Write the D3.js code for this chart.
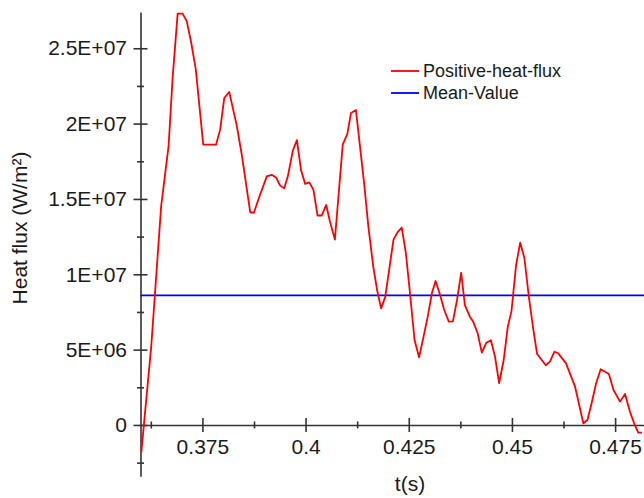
<!DOCTYPE html>
<html>
<head>
<meta charset="utf-8">
<script src="https://cdn.jsdelivr.net/npm/d3@7"></script>
<style>
  body { margin: 0; background: #fff; }
  text { font-family: "Liberation Sans", Arial, sans-serif; fill: #1a1a1a; }
</style>
</head>
<body>
<svg id="chart"></svg>
<script>
// time (s) and heat flux (W/m²)
let times = [0.3602, 0.3626, 0.3650, 0.3668, 0.3678, 0.3690, 0.3702, 0.3712, 0.3722, 0.3734,
  0.3752, 0.3783, 0.3793, 0.3803, 0.3815, 0.3833, 0.3845, 0.3866, 0.3875, 0.3886,
  0.3906, 0.3918, 0.3929, 0.3938, 0.3948, 0.3957, 0.3969, 0.3979, 0.3989, 0.3999,
  0.4009, 0.4019, 0.4029, 0.4039, 0.4050, 0.4059, 0.4071, 0.4090, 0.4101, 0.4110,
  0.4122, 0.4142, 0.4152, 0.4164, 0.4174, 0.4183, 0.4193, 0.4202, 0.4213, 0.4223,
  0.4233, 0.4243, 0.4253, 0.4264, 0.4275, 0.4285, 0.4296, 0.4306, 0.4315, 0.4326,
  0.4336, 0.4347, 0.4357, 0.4367, 0.4377, 0.4386, 0.4398, 0.4406, 0.4417, 0.4427,
  0.4438, 0.4449, 0.4459, 0.4469, 0.4480, 0.4490, 0.4499, 0.4510, 0.4520, 0.4530,
  0.4541, 0.4552, 0.4561, 0.4582, 0.4592, 0.4603, 0.4612, 0.4631, 0.4653, 0.4673,
  0.4683, 0.4693, 0.4704, 0.4715, 0.4735, 0.4746, 0.4762, 0.4774, 0.4786, 0.4796,
  0.4806, 0.4815]
let flux = [-1.8e6, 5.2e6, 14.5e6, 18.5e6, 23.1e6, 27.3e6, 27.3e6, 26.8e6, 25.5e6, 23.6e6,
  18.6e6, 18.6e6, 19.6e6, 21.7e6, 22.1e6, 19.9e6, 18.0e6, 14.1e6, 14.1e6, 15.0e6,
  16.5e6, 16.6e6, 16.4e6, 15.9e6, 15.7e6, 16.5e6, 18.2e6, 18.9e6, 16.9e6, 16.0e6,
  16.1e6, 15.6e6, 13.9e6, 13.9e6, 14.6e6, 13.5e6, 12.3e6, 18.6e6, 19.3e6, 20.7e6,
  20.9e6, 16.0e6, 13.2e6, 10.5e6, 8.85e6, 7.74e6, 8.5e6, 10.2e6, 12.3e6, 12.8e6,
  13.1e6, 11.4e6, 8.74e6, 5.64e6, 4.49e6, 5.75e6, 7.19e6, 8.74e6, 9.56e6, 8.63e6,
  7.63e6, 6.86e6, 6.88e6, 8.3e6, 10.1e6, 7.96e6, 7.19e6, 6.86e6, 6.09e6, 4.8e6,
  5.46e6, 5.62e6, 4.53e6, 2.77e6, 4.31e6, 6.52e6, 7.57e6, 10.6e6, 12.1e6, 11.1e6,
  8.51e6, 6.3e6, 4.71e6, 3.96e6, 4.2e6, 4.86e6, 4.76e6, 4.09e6, 2.54e6, 0.11e6,
  0.33e6, 1.44e6, 2.77e6, 3.7e6, 3.38e6, 2.32e6, 1.55e6, 2.06e6, 0.88e6, 0.11e6,
  -0.51e6, -0.51e6]
let meanValue = 8.6e6

let xTicks = [0.375, 0.4, 0.425, 0.45, 0.475]
let xTickLabels = ["0.375", "0.4", "0.425", "0.45", "0.475"]
let xMinor = [0.3625, 0.3875, 0.4125, 0.4375, 0.4625]
let yTicks = [0, 5e6, 1e7, 1.5e7, 2e7, 2.5e7]
let yTickLabels = ["0", "5E+06", "1E+07", "1.5E+07", "2E+07", "2.5E+07"]
let yMinor = [-2.5e6, 2.5e6, 7.5e6, 12.5e6, 17.5e6, 22.5e6]

let seriesNames = ["Positive-heat-flux", "Mean-Value"]
let seriesColors = ["#ff0000", "#0000ff"]

let w = 644, h = 498
let svg = d3.select('#chart').attr('width', w).attr('height', h)

let x = d3.scaleLinear().domain([0.36, 0.482]).range([140.5, 644])
let y = d3.scaleLinear().domain([-3.4e6, 27.4e6]).range([476.2, 12.1])

let axisColor = '#333'

function styleAxis(g, cross){
    g.selectAll('.domain').attr('stroke', axisColor).attr('stroke-width', 1.6)
    g.selectAll('.tick line').attr('stroke', axisColor).attr('stroke-width', 1.6)
    g.selectAll('text').style('font-size', '21px').attr('fill', '#1a1a1a')
}

// y axis (major ticks cross the line)
let yAxis = svg.append('g')
    .attr('transform', `translate(${x(0.36)}, 0)`)
    .call(d3.axisLeft(y).tickValues(yTicks).tickSize(7).tickSizeOuter(0).tickPadding(6.5)
        .tickFormat((d, i) => yTickLabels[i]))
yAxis.selectAll('.tick line').attr('x1', 7)
styleAxis(yAxis)

let yAxisMinor = svg.append('g')
    .attr('transform', `translate(${x(0.36)}, 0)`)
    .call(d3.axisLeft(y).tickValues(yMinor).tickSize(3.5).tickFormat(''))
yAxisMinor.select('.domain').remove()
yAxisMinor.selectAll('.tick line').attr('x1', 3.5)
styleAxis(yAxisMinor)

// x axis at y = 0
let xAxis = svg.append('g')
    .attr('transform', `translate(0, ${y(0)})`)
    .call(d3.axisBottom(x).tickValues(xTicks).tickSize(7).tickSizeOuter(0).tickPadding(7)
        .tickFormat((d, i) => xTickLabels[i]))
xAxis.selectAll('.tick line').attr('y1', -7)
styleAxis(xAxis)

let xAxisMinor = svg.append('g')
    .attr('transform', `translate(0, ${y(0)})`)
    .call(d3.axisBottom(x).tickValues(xMinor).tickSize(3.5).tickFormat(''))
xAxisMinor.select('.domain').remove()
xAxisMinor.selectAll('.tick line').attr('y1', -3.5)
styleAxis(xAxisMinor)

// axis titles
svg.append('text')
    .attr('x', 410).attr('y', 491)
    .attr('text-anchor', 'middle')
    .style('font-size', '21px')
    .text('t(s)')

svg.append('text')
    .attr('transform', `translate(27, 228) rotate(-90)`)
    .attr('text-anchor', 'middle')
    .style('font-size', '21px')
    .text('Heat flux (W/m²)')

// mean line
svg.append('line')
    .attr('x1', x(0.36)).attr('x2', x(0.482))
    .attr('y1', y(meanValue)).attr('y2', y(meanValue))
    .attr('stroke', seriesColors[1])
    .attr('stroke-width', 1.8)

// heat flux curve
let pts = times.map((t, i) => ({t, v: flux[i]}))
svg.append('path')
    .datum(pts)
    .attr('fill', 'none')
    .attr('stroke', seriesColors[0])
    .attr('stroke-width', 1.8)
    .attr('stroke-linejoin', 'round')
    .attr('d', d3.line().x(d => x(d.t)).y(d => y(d.v)))

// legend
let legend = svg.append('g').attr('transform', 'translate(391, 71)')
seriesNames.forEach((name, i) => {
    let row = legend.append('g').attr('transform', `translate(0, ${i * 22})`)
    row.append('line')
        .attr('x1', 0).attr('x2', 28)
        .attr('stroke', seriesColors[i])
        .attr('stroke-width', 1.8)
    row.append('text')
        .attr('x', 32).attr('y', 6)
        .style('font-size', '18px')
        .text(name)
})
</script>
</body>
</html>
